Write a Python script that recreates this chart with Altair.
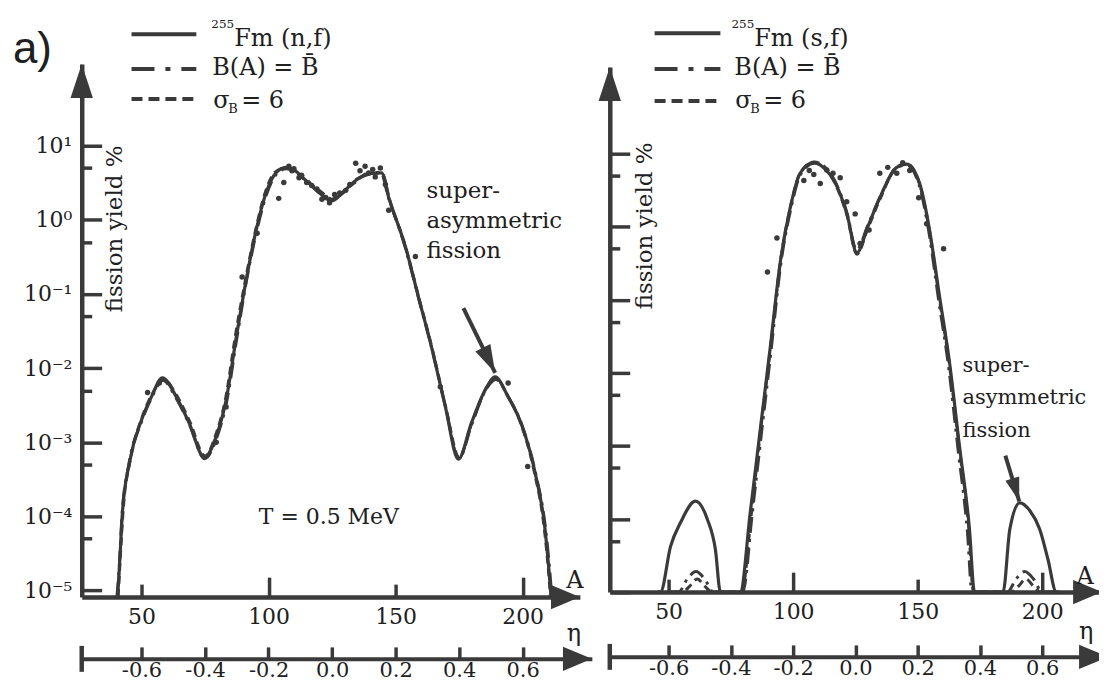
import altair as alt
import pandas as pd

# ===================== values =====================
# Left panel: 255Fm (n,f), T = 0.5 MeV   (fission yield in %)
NF_A = [40.6, 41.4, 42.5, 45.3, 50.0, 53.9, 58.2, 63.7, 68.8, 74.7, 79.4, 83.3,
        87.3, 91.2, 95.1, 99.0, 102.9, 106.9, 110.5, 114.7, 119.5, 124.9, 130.0,
        134.3, 139.5, 144.5, 147.3, 153.9, 159.0, 164.1, 169.6, 174.7, 179.8,
        185.3, 189.2, 194.3, 199.4, 204.9, 208.8, 210.3, 211.2]
NF_Y = [5e-6, 2.4e-5, 1.15e-4, 5.4e-4, 2.0e-3, 4.1e-3, 7.4e-3, 4.1e-3, 1.8e-3,
        6.2e-4, 1.2e-3, 3.7e-3, 2.6e-2, 0.155, 0.72, 2.3, 4.3, 5.1, 4.6, 3.4,
        2.4, 1.8, 2.5, 3.4, 4.2, 4.3, 2.0, 0.43, 0.091, 0.0195, 3.0e-3, 5.9e-4,
        1.8e-3, 5.1e-3, 7.6e-3, 4.1e-3, 1.8e-3, 3.9e-4, 6.8e-5, 2.0e-5, 5e-6]
# B(A) = B-bar (dash-dot)
NF_BB_A = [40.3, 41.2, 42.3, 45.0, 50.0, 54.0, 58.5, 63.5, 68.8, 74.9, 79.6, 83.5,
           87.5, 91.3, 95.3, 99.2, 103.0, 107.0, 111.0, 115.0, 120.0, 125.0, 130.0,
           134.5, 139.5, 144.2, 147.0, 153.6, 158.8, 164.0, 169.6, 174.9, 180.0,
           185.4, 189.5, 194.5, 199.6, 205.1, 209.1, 210.6, 211.5]
NF_BB_Y = [1e-6, 2.0e-5, 1.0e-4, 5.0e-4, 1.9e-3, 4.0e-3, 6.8e-3, 4.0e-3, 1.75e-3,
           6.0e-4, 1.15e-3, 3.5e-3, 2.5e-2, 0.15, 0.70, 2.2, 4.1, 4.9, 4.5, 3.5,
           2.3, 1.9, 2.4, 3.5, 4.1, 4.4, 2.1, 0.45, 0.095, 0.020, 3.1e-3, 6.0e-4,
           1.75e-3, 5.0e-3, 7.0e-3, 4.0e-3, 1.75e-3, 3.8e-4, 6.5e-5, 2.0e-5, 1e-6]
# sigma_B = 6 (dashed)
NF_SG_A = [40.8, 41.6, 42.8, 45.6, 50.3, 54.3, 58.8, 63.8, 69.0, 75.0, 79.2, 83.1,
           87.0, 91.0, 95.0, 98.8, 102.6, 106.5, 110.5, 115.0, 120.0, 125.0, 130.0,
           134.5, 139.5, 144.8, 147.6, 154.2, 159.2, 164.3, 169.8, 175.0, 180.2,
           185.6, 189.4, 194.0, 199.0, 204.6, 208.5, 210.0, 211.0]
NF_SG_Y = [1e-6, 2.6e-5, 1.25e-4, 5.8e-4, 2.2e-3, 4.5e-3, 7.0e-3, 4.3e-3, 1.9e-3,
           6.5e-4, 1.25e-3, 3.9e-3, 2.8e-2, 0.16, 0.75, 2.4, 4.4, 5.0, 4.4, 3.3,
           2.5, 1.9, 2.5, 3.3, 4.3, 4.2, 1.9, 0.40, 0.088, 0.019, 2.9e-3, 6.3e-4,
           1.9e-3, 5.3e-3, 7.4e-3, 4.3e-3, 1.9e-3, 4.0e-4, 7.0e-5, 2.2e-5, 1e-6]
# experimental points
NF_EXP_A = [52.4, 57.0, 79.4, 83.3, 89.6, 95.5, 104.0, 106.0, 108.0, 109.2, 110.0,
            112.0, 113.0, 115.0, 117.0, 119.0, 121.0, 122.5, 124.0, 126.0, 128.0,
            130.4, 132.0, 134.3, 136.0, 138.0, 139.4, 141.0, 142.0, 144.0, 146.0,
            147.3, 157.8, 167.6, 194.3, 202.0]
NF_EXP_Y = [4.7e-3, 6.3e-3, 1.0e-3, 3.0e-3, 0.17, 0.66, 1.95, 3.2, 5.3, 4.6, 4.9,
            3.7, 4.0, 3.2, 2.9, 2.6, 1.9, 2.0, 1.7, 2.2, 2.3, 2.5, 3.0, 5.8, 4.6,
            5.3, 4.3, 4.8, 3.8, 5.0, 3.0, 1.35, 0.32, 5.6e-3, 6.3e-3, 4.7e-4]

# Right panel: 255Fm (s,f)
SF_A = [45.5, 46.8, 50.8, 54.8, 60.8, 65.6, 68.8, 70.8, 72.0, 77.6, 78.8, 82.8,
        86.8, 90.8, 94.8, 98.8, 102.8, 108.4, 112.5, 116.4, 121.6, 125.6, 130.0,
        134.8, 141.6, 145.6, 150.8, 154.8, 158.8, 162.8, 166.8, 170.8, 172.8,
        174.0, 183.0, 184.3, 187.0, 191.0, 195.0, 199.0, 202.3, 205.6, 207.0]
SF_Y = [1e-6, 1e-5, 4.2e-5, 8.9e-5, 1.75e-4, 9.8e-5, 3.8e-5, 1e-5, 1e-6, 1e-6,
        1e-5, 1.23e-4, 1.66e-3, 2.2e-2, 0.32, 1.8, 5.4, 7.6, 6.3, 4.3, 1.5, 0.44,
        1.0, 2.5, 6.5, 7.2, 3.9, 0.89, 0.11, 1.38e-2, 9.8e-4, 7.2e-5, 1e-5, 1e-6,
        1e-6, 1e-5, 7.2e-5, 1.66e-4, 1.3e-4, 7.2e-5, 2.8e-5, 1e-5, 1e-6]
SF_BB_A = [50.0, 54.0, 57.5, 61.0, 64.5, 68.0, 72.0, 78.5, 79.8, 83.6, 87.4, 91.2,
           95.0, 99.0, 103.0, 108.5, 112.5, 116.5, 121.5, 125.5, 130.0, 135.0,
           141.5, 145.5, 150.5, 154.5, 158.4, 162.3, 166.2, 170.0, 171.8, 180.0,
           186.0, 189.5, 193.0, 196.5, 200.0, 206.0]
SF_BB_Y = [1e-6, 8e-6, 1.5e-5, 1.9e-5, 1.5e-5, 8e-6, 1e-6, 1e-6, 1e-5, 1.2e-4,
           1.6e-3, 2.1e-2, 0.30, 1.7, 5.2, 7.4, 6.5, 4.4, 1.6, 0.48, 1.05, 2.6,
           6.4, 7.0, 3.8, 0.85, 0.10, 1.3e-2, 9.0e-4, 6.5e-5, 1e-5, 1e-6, 8e-6,
           1.5e-5, 1.9e-5, 1.5e-5, 8e-6, 1e-6]
SF_SG_A = [52.0, 55.5, 58.5, 61.5, 64.5, 67.5, 71.0, 78.2, 79.4, 83.2, 87.0, 91.0,
           94.9, 98.9, 102.9, 108.4, 112.5, 116.4, 121.6, 125.6, 130.0, 134.9,
           141.6, 145.6, 150.7, 154.7, 158.6, 162.6, 166.6, 170.5, 172.4, 181.0,
           187.5, 190.5, 193.5, 196.5, 199.5, 205.0]
SF_SG_Y = [1e-6, 7e-6, 1.2e-5, 1.5e-5, 1.2e-5, 7e-6, 1e-6, 1e-6, 1e-5, 1.15e-4,
           1.7e-3, 2.3e-2, 0.33, 1.85, 5.5, 7.7, 6.7, 4.2, 1.45, 0.42, 0.95, 2.4,
           6.6, 7.3, 3.9, 0.9, 0.11, 1.4e-2, 1.0e-3, 7.5e-5, 1e-5, 1e-6, 7e-6,
           1.2e-5, 1.5e-5, 1.2e-5, 7e-6, 1e-6]
SF_EXP_A = [89.7, 93.5, 104.3, 106.5, 108.3, 110.9, 113.5, 116.0, 118.9, 121.5,
            124.9, 126.9, 130.5, 134.8, 138.0, 141.6, 144.0, 146.8, 150.4, 153.6, 160.4]
SF_EXP_Y = [0.24, 0.7, 4.3, 5.9, 5.2, 3.9, 6.0, 5.4, 4.7, 2.2, 1.5, 0.59, 0.9,
            5.4, 6.5, 5.4, 7.5, 5.9, 2.5, 1.1, 0.5]

# tick values
A_LABELS = [50, 100, 150, 200]
A_TICKS_SHORT = [50, 150]
A_TICKS_LONG = [100, 200]
ETA_TICKS = [-0.6, -0.4, -0.2, 0.0, 0.2, 0.4, 0.6]
Y_DECADES = [1e-5, 1e-4, 1e-3, 1e-2, 1e-1, 1e0, 1e1]
Y_MINOR = [5e-5, 5e-4, 5e-3, 5e-2, 5e-1, 5e0]
ETA_MID, ETA_HALF = 125.0, 125.0      # eta = (A - 125) / 125

# ===================== layout / style =====================
W, H = 1095, 677
OX = OY = 8          # page position of the plot-area origin
FONT = "DejaVu Serif"
INK = "#202020"
GREY = "#3a3a3a"
Y_HEAD = "M0,0L0.33,1L-0.33,1Z"
X_HEAD = "M0,0L0.42,1L-0.42,1Z"
N_HEAD = "M0,0L0.3,1L-0.3,1Z"

PANELS = {
    "L": dict(x0=82, x1=582, xe1=594, a50=142, ppa=2.55, ybot=598, ytop=63,
              y10=145, ppd=74.4, eta_y=660, title_x=115, title_y=228, labels=True),
    "R": dict(x0=612, x1=1106, xe1=1112, a50=671, ppa=2.5, ybot=593, ytop=66,
              y10=153, ppd=73.3, eta_y=658, title_x=647, title_y=225, labels=False),
}

ONE = pd.DataFrame({"k": [0]})


def geom(p):
    a = lambda px: 50 + (px - p["a50"]) / p["ppa"]
    lo = 1 - (p["ybot"] - p["y10"]) / p["ppd"]
    hi = 1 + (p["y10"] - p["ytop"]) / p["ppd"]
    return dict(
        a_dom=[a(p["x0"]), a(p["x1"])],
        x_rng=[p["x0"] - OX, p["x1"] - OX],
        y_dom=[10 ** lo, 10 ** hi],
        y_rng=[p["ybot"] - OY, p["ytop"] - OY],
        e_dom=[(a(p["x0"]) - ETA_MID) / ETA_HALF, (a(p["xe1"]) - ETA_MID) / ETA_HALF],
        e_rng=[p["x0"] - OX, p["xe1"] - OX],
    )


def XS(g):
    return alt.Scale(type="linear", domain=g["a_dom"], range=g["x_rng"], nice=False, zero=False)


def YS(g):
    return alt.Scale(type="log", domain=g["y_dom"], range=g["y_rng"], nice=False, clamp=True)


def ES(g):
    return alt.Scale(type="linear", domain=g["e_dom"], range=g["e_rng"], nice=False, zero=False)


def carrier(g, xaxis=None, yaxis=None, eta=False):
    df = pd.DataFrame({"A": g["a_dom"], "E": g["e_dom"], "Y": g["y_dom"]})
    return alt.Chart(df).mark_point(opacity=0).encode(
        x=alt.X("E:Q" if eta else "A:Q", scale=ES(g) if eta else XS(g), axis=xaxis),
        y=alt.Y("Y:Q", scale=YS(g), axis=yaxis),
    )


def series(g, A, Y, mark):
    df = pd.DataFrame({"A": A, "Y": Y})
    return mark(alt.Chart(df)).encode(
        x=alt.X("A:Q", scale=XS(g), axis=None),
        y=alt.Y("Y:Q", scale=YS(g), axis=None),
    )


def ptext(txt, px, py, size=24, align="left", font=FONT):
    return alt.Chart(ONE).mark_text(text=txt, align=align, baseline="alphabetic",
                                    font=font, fontSize=size, color=INK).encode(
        x=alt.value(px - OX), y=alt.value(py - OY))


def prule(px0, px1, py, dash=None, width=4):
    kw = dict(color=GREY, strokeWidth=width)
    if dash:
        kw["strokeDash"] = dash
    return alt.Chart(ONE).mark_rule(**kw).encode(
        x=alt.value(px0 - OX), x2=alt.value(px1 - OX), y=alt.value(py - OY))


def data_arrow(g, a0, y0, a1, y1, angle, size):
    df = pd.DataFrame({"A0": [a0], "Y0": [y0], "A1": [a1], "Y1": [y1]})
    shaft = alt.Chart(df).mark_rule(color=GREY, strokeWidth=4).encode(
        x=alt.X("A0:Q", scale=XS(g), axis=None), y=alt.Y("Y0:Q", scale=YS(g), axis=None),
        x2="A1:Q", y2="Y1:Q")
    head = alt.Chart(df).mark_point(shape=N_HEAD, size=size, angle=angle, filled=True,
                                    color=GREY, opacity=1, strokeWidth=0).encode(
        x=alt.X("A1:Q", scale=XS(g), axis=None), y=alt.Y("Y1:Q", scale=YS(g), axis=None))
    return [shaft, head]


SUP = "['\u207b\u2075','\u207b\u2074','\u207b\u00b3','\u207b\u00b2','\u207b\u00b9','\u2070','\u00b9','\u00b2']"


def panel(key, solid, dashdot, dashed, exp):
    p = PANELS[key]
    g = geom(p)
    layers = []
    # ---- y axis: domain line + labels + title
    yl = dict(orient="left", offset=-(p["x0"] - OX), values=Y_DECADES, ticks=False, tickSize=0,
              domain=True, domainWidth=4.5, labelPadding=10, grid=False,
              title="fission yield %", titleX=p["title_x"] - p["x0"], titleY=p["title_y"] - OY,
              titleAngle=270, titleAlign="center", titleBaseline="middle")
    if p["labels"]:
        yl["labelExpr"] = "'10' + " + SUP + "[round(log(datum.value)/LN10) + 5]"
    else:
        yl["labels"] = False
    layers.append(carrier(g, yaxis=alt.Axis(**yl)))
    # ---- inward y ticks
    for vals, size in ((Y_DECADES, 20), (Y_MINOR, 10)):
        layers.append(carrier(g, yaxis=alt.Axis(orient="right", offset=(p["x0"] - OX) - W,
                                                values=vals, tickSize=size, domain=False,
                                                labels=False, title=None, grid=False)))
    # ---- A axis: line + labels, inward ticks
    layers.append(carrier(g, xaxis=alt.Axis(orient="bottom", offset=(p["ybot"] - OY) - H,
                                            values=A_LABELS, ticks=False, tickSize=0, domain=True,
                                            domainWidth=4.5, labelPadding=10, format="d",
                                            title=None, grid=False)))
    for vals, size in ((A_TICKS_SHORT, 13), (A_TICKS_LONG, 20)):
        layers.append(carrier(g, xaxis=alt.Axis(orient="top", offset=-(p["ybot"] - OY),
                                                values=vals, tickSize=size, domain=False,
                                                labels=False, title=None, grid=False)))
    # ---- eta axis
    layers.append(carrier(g, eta=True, xaxis=alt.Axis(
        orient="bottom", offset=(p["eta_y"] - OY) - H, values=ETA_TICKS, ticks=False, tickSize=0,
        domain=True, domainWidth=4, labelPadding=1, labelFontSize=21, title=None, grid=False,
        labelExpr="(datum.value < 0 ? '-' : '') + format(abs(datum.value), '.1f')")))
    layers.append(carrier(g, eta=True, xaxis=alt.Axis(
        orient="top", offset=-(p["eta_y"] - OY), values=ETA_TICKS, tickSize=12, domain=False,
        labels=False, title=None, grid=False)))
    # eta axis end bar
    layers.append(alt.Chart(pd.DataFrame({"E": [g["e_dom"][0]]})).mark_rule(
        color=GREY, strokeWidth=4.5).encode(
        x=alt.X("E:Q", scale=ES(g), axis=None),
        y=alt.value(p["eta_y"] - 13 - OY), y2=alt.value(p["eta_y"] + 13 - OY)))
    # ---- arrow heads of the axes
    layers.append(alt.Chart(pd.DataFrame({"A": [g["a_dom"][0]], "Y": [g["y_dom"][1]]})).mark_point(
        shape=Y_HEAD, size=4624, angle=0, filled=True, color=GREY, opacity=1, strokeWidth=0).encode(
        x=alt.X("A:Q", scale=XS(g), axis=None), y=alt.Y("Y:Q", scale=YS(g), axis=None)))
    layers.append(alt.Chart(pd.DataFrame({"A": [g["a_dom"][1]], "Y": [g["y_dom"][0]]})).mark_point(
        shape=X_HEAD, size=3364, angle=90, filled=True, color=GREY, opacity=1, strokeWidth=0).encode(
        x=alt.X("A:Q", scale=XS(g), axis=None), y=alt.Y("Y:Q", scale=YS(g), axis=None)))
    layers.append(alt.Chart(pd.DataFrame({"E": [g["e_dom"][1]]})).mark_point(
        shape=X_HEAD, size=3364, angle=90, filled=True, color=GREY, opacity=1, strokeWidth=0).encode(
        x=alt.X("E:Q", scale=ES(g), axis=None), y=alt.value(p["eta_y"] - OY)))
    # ---- curves
    layers.append(series(g, *solid, lambda c: c.mark_line(
        interpolate="monotone", color=GREY, strokeWidth=3.2)))
    layers.append(series(g, *dashdot, lambda c: c.mark_line(
        interpolate="monotone", color=GREY, strokeWidth=3, strokeDash=[16, 6, 3, 6])))
    layers.append(series(g, *dashed, lambda c: c.mark_line(
        interpolate="monotone", color=GREY, strokeWidth=3, strokeDash=[8, 5])))
    layers.append(series(g, *exp, lambda c: c.mark_circle(size=30, color=GREY, opacity=1)))
    return g, layers


gL, LL = panel("L", (NF_A, NF_Y), (NF_BB_A, NF_BB_Y), (NF_SG_A, NF_SG_Y), (NF_EXP_A, NF_EXP_Y))
gR, LR = panel("R", (SF_A, SF_Y), (SF_BB_A, SF_BB_Y), (SF_SG_A, SF_SG_Y), (SF_EXP_A, SF_EXP_Y))

# annotation arrows (data coordinates: A, yield)
LL += data_arrow(gL, 176.7, 0.0646, 189.2, 8.65e-3, 153.8, 3136)
LR += data_arrow(gR, 185.2, 7.35e-4, 190.8, 1.73e-4, 163.0, 2304)

ann = []
# panel label
ann.append(ptext("a)", 13, 62, size=44, font="Liberation Sans"))
# legends
for (lx0, lx1, tx, sx, rows_y, tag) in ((132, 197, 213, 235, (33, 68, 98), "(n,f)"),
                                         (657, 723, 737, 757, (32, 68, 100), "(s,f)")):
    ann.append(prule(lx0, lx1, rows_y[0]))
    ann.append(prule(lx0, lx1, rows_y[1], dash=[23, 11, 5, 11]))
    ann.append(prule(lx0, lx1, rows_y[2], dash=[11, 6]))
    ann.append(ptext("255", sx, 27, size=12, align="right"))
    ann.append(ptext("Fm " + tag, sx, 45))
    ann.append(ptext("B(A) = B\u0304", tx, 74))
    ann.append(ptext("\u03c3", tx + 1, 107))
    ann.append(ptext("B", tx + 16, 112, size=13))
    ann.append(ptext("= 6", tx + 29, 107))
# axis names
ann.append(ptext("A", 577, 589, align="center"))
ann.append(ptext("\u03b7", 576, 642, align="center"))
ann.append(ptext("A", 1089, 585, align="center"))
ann.append(ptext("\u03b7", 1090, 640, align="center"))
# texts in the panels
ann.append(ptext("T = 0.5 MeV", 330, 525, size=22, align="center"))
for txt, by in (("super-", 197), ("asymmetric", 228), ("fission", 258)):
    ann.append(ptext(txt, 428, by, size=23))
for txt, by in (("super-", 372), ("asymmetric", 404), ("fission", 437)):
    ann.append(ptext(txt, 966, by, size=21))

chart = alt.layer(*(LL + LR + ann)).resolve_scale(x="independent", y="independent").properties(
    width=W, height=H, padding=0, autosize=alt.AutoSizeParams(type="none"),
    background="white",
).configure_view(strokeWidth=0).configure_axis(
    labelFont=FONT, labelFontSize=22, labelColor=INK, titleFont=FONT, titleFontSize=23,
    titleFontWeight="normal", titleColor=INK, domainColor=GREY, tickColor=GREY, tickWidth=3.5,
    labelFlush=False, labelOverlap=False,
)

chart.save("out.html", embed_options={"renderer": "svg", "actions": False})
